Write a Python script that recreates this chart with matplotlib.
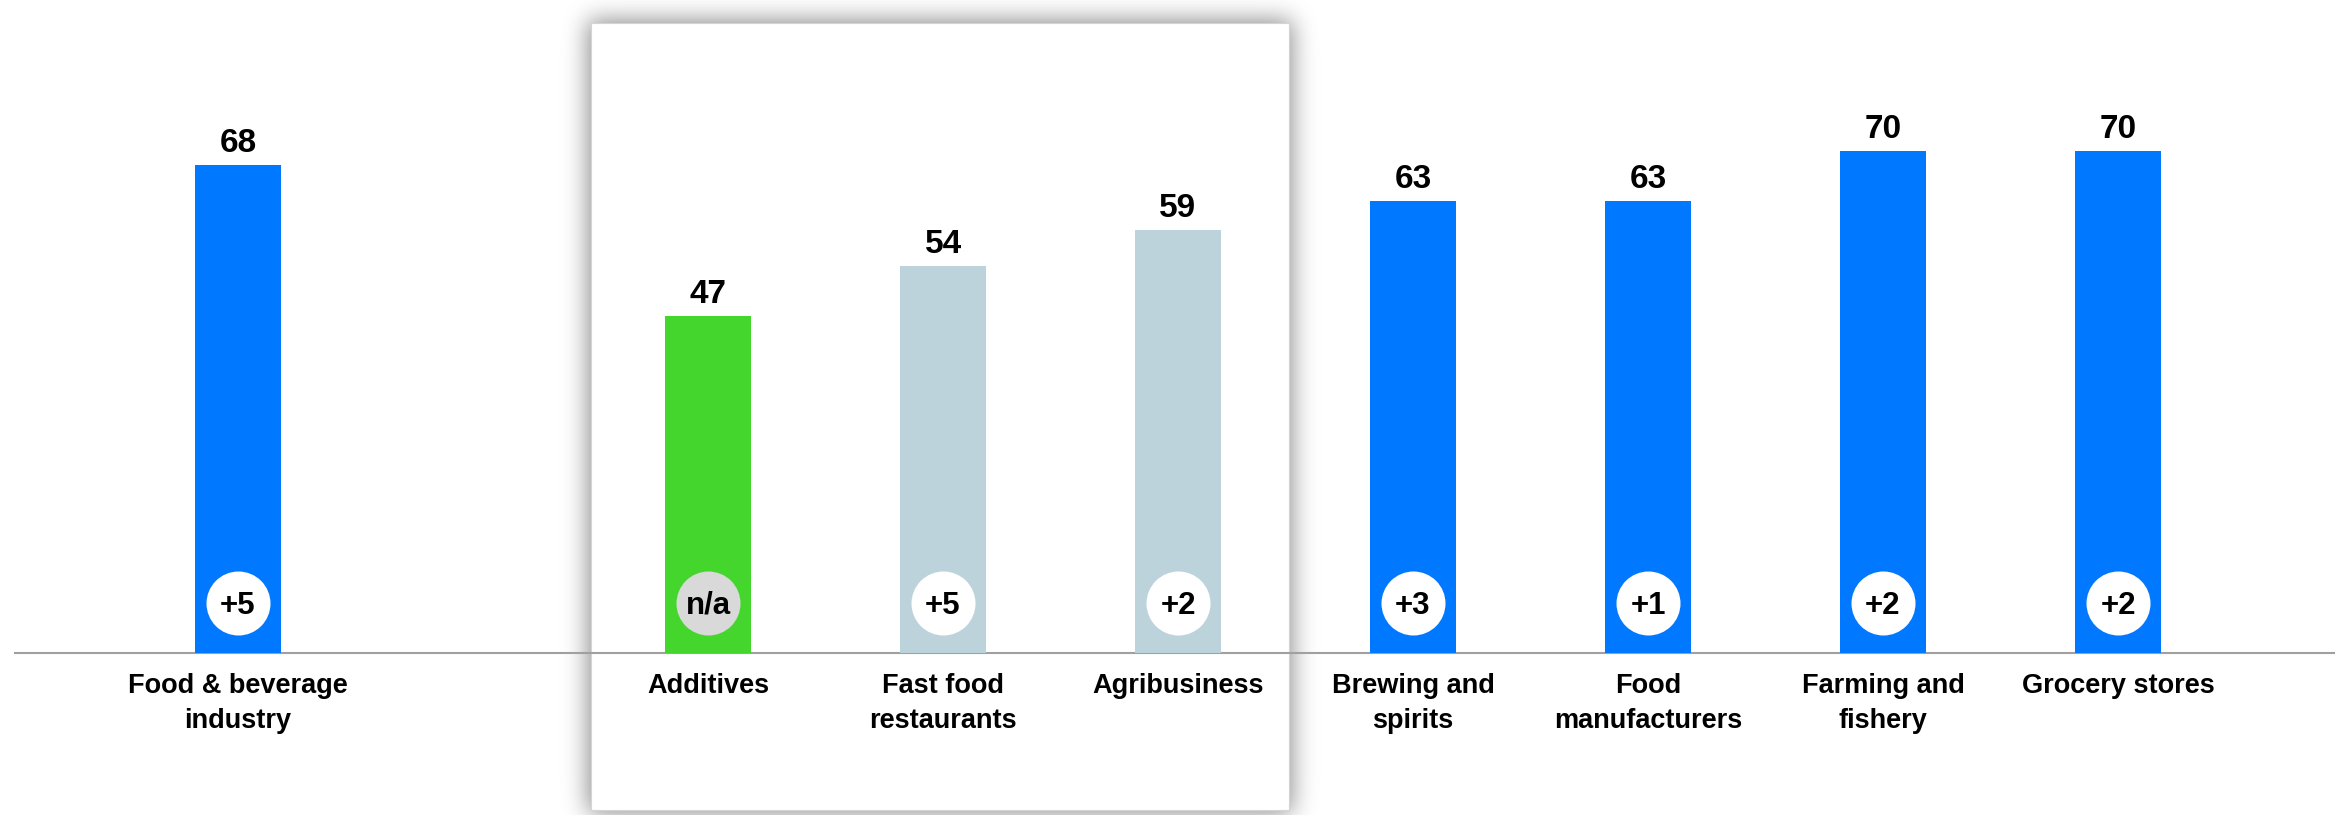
import math
import numpy as np
import matplotlib
matplotlib.use("Agg")
import matplotlib.pyplot as plt
from matplotlib.patches import Rectangle

# ---- data ----
categories = [
    "Food & beverage\nindustry", "Additives", "Fast food\nrestaurants",
    "Agribusiness", "Brewing and\nspirits", "Food\nmanufacturers",
    "Farming and\nfishery", "Grocery stores",
]
scores = [68, 47, 54, 59, 63, 63, 70, 70]
changes = ["+5", "n/a", "+5", "+2", "+3", "+1", "+2", "+2"]

# ---- style ----
BLUE = "#0078FF"
GREEN = "#45D62D"
PALE = "#BDD3DB"
bar_colors = [BLUE, GREEN, PALE, PALE, BLUE, BLUE, BLUE, BLUE]
FONT = "Liberation Sans"

W_PX, H_PX, DPI = 2346, 815, 100
X0_PX, STEP_PX = 238, 235          # centre of first slot, slot spacing
BASE_PX, UNIT_PX = 653, 7.17       # baseline row, pixels per score point
BAR_W = 0.362
PT = 72 / DPI                      # points per pixel

fig = plt.figure(figsize=(W_PX / DPI, H_PX / DPI), dpi=DPI)
fig.patch.set_facecolor("white")

# ---- background panel with soft shadow (pixel coordinates) ----
bg = fig.add_axes([0, 0, 1, 1], zorder=0)
bg.set_xlim(0, W_PX)
bg.set_ylim(H_PX, 0)
bg.axis("off")

px0, px1, py0, py1 = 591, 1289, 23, 810
erf = np.vectorize(math.erf)
sig, grow, strength = 12.0, 3.0, 0.45
xs = np.arange(W_PX) + 0.5
ys = np.arange(H_PX) + 0.5
fx = 0.5 * (erf((xs - (px0 - grow)) / (math.sqrt(2) * sig))
            - erf((xs - (px1 + grow)) / (math.sqrt(2) * sig)))
fy = 0.5 * (erf((ys - (py0 - grow)) / (math.sqrt(2) * sig))
            - erf((ys - (py1 + grow)) / (math.sqrt(2) * sig)))
shadow = np.zeros((H_PX, W_PX, 4))
shadow[..., 3] = strength * np.outer(fy, fx)
bg.imshow(shadow, extent=(0, W_PX, H_PX, 0), interpolation="bilinear", aspect="auto")
bg.add_patch(Rectangle((px0, py0), px1 - px0, py1 - py0, facecolor="white",
                       edgecolor="#D4D4D4", linewidth=0.8, zorder=2))

# ---- main chart ----
ax = fig.add_axes([0, 0, 1, 1], zorder=1)
ax.patch.set_visible(False)
ax.set_xlim(-X0_PX / STEP_PX, (W_PX - X0_PX) / STEP_PX)
ax.set_ylim(-(H_PX - BASE_PX) / UNIT_PX, BASE_PX / UNIT_PX)
ax.axis("off")

# first category stands apart from the rest
xpos = [0] + [i + 1 for i in range(1, len(categories))]

ax.axhline(0, xmin=15 / W_PX, xmax=2334 / W_PX, color="#A0A0A0", lw=1.5, zorder=1)
ax.bar(xpos, scores, width=BAR_W, color=bar_colors, zorder=2)

badge_y = (BASE_PX - 603) / UNIT_PX
for x, v, ch, cat in zip(xpos, scores, changes, categories):
    ax.annotate(str(v), (x, v), xytext=(0, 13 * PT), textcoords="offset points",
                ha="center", va="baseline", fontsize=24, fontweight="bold",
                family=FONT, color="black", zorder=4)
    ax.scatter([x], [badge_y], s=(64 * PT) ** 2, marker="o", linewidths=0,
               color="#D9D9D9" if ch == "n/a" else "white", zorder=3)
    ax.annotate(ch, (x, badge_y), xytext=(0, -11 * PT), textcoords="offset points",
                ha="center", va="baseline", fontsize=22.5, fontweight="bold",
                family=FONT, color="black", zorder=4)
    for i, line in enumerate(cat.split("\n")):
        ax.annotate(line, (x, 0), xytext=(0, -(40 + 35 * i) * PT),
                    textcoords="offset points", ha="center", va="baseline",
                    fontsize=19.5, fontweight="bold", family=FONT,
                    color="black", zorder=4)

fig.savefig("out.png", dpi=DPI, facecolor="white")
